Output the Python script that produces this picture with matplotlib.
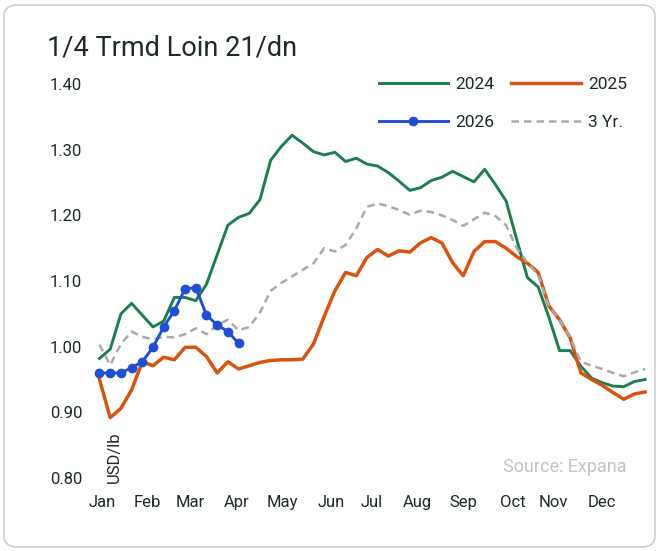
import matplotlib.pyplot as plt
from matplotlib.patches import FancyBboxPatch
import numpy as np

plt.rcParams['font.family'] = ['Roboto', 'DejaVu Sans']

# weekly prices, USD/lb
y2024 = [0.982, 0.996, 1.050, 1.066, 1.048, 1.030, 1.039, 1.075, 1.075, 1.070,
         1.095, 1.140, 1.185, 1.197, 1.203, 1.224, 1.284, 1.305, 1.322, 1.310,
         1.297, 1.292, 1.296, 1.282, 1.287, 1.278, 1.275, 1.265, 1.252, 1.238,
         1.242, 1.253, 1.258, 1.267, 1.259, 1.251, 1.270, 1.247, 1.222, 1.163,
         1.105, 1.091, 1.045, 0.994, 0.994, 0.970, 0.952, 0.945, 0.940, 0.939,
         0.947, 0.950]
y2025 = [0.950, 0.892, 0.906, 0.934, 0.977, 0.971, 0.984, 0.980, 0.999, 0.999,
         0.985, 0.960, 0.977, 0.966, 0.971, 0.976, 0.979, 0.980, 0.980, 0.981,
         1.004, 1.046, 1.085, 1.113, 1.108, 1.136, 1.148, 1.138, 1.146, 1.144,
         1.158, 1.166, 1.158, 1.128, 1.108, 1.145, 1.160, 1.160, 1.150, 1.137,
         1.127, 1.113, 1.062, 1.041, 1.013, 0.960, 0.950, 0.941, 0.930, 0.920,
         0.928, 0.931]
y2026 = [0.960, 0.960, 0.960, 0.968, 0.977, 0.999, 1.030, 1.055, 1.088, 1.090,
         1.048, 1.033, 1.023, 1.005]
y3yr = [1.003, 0.972, 1.004, 1.023, 1.015, 1.011, 1.015, 1.014, 1.019, 1.028,
        1.019, 1.033, 1.041, 1.025, 1.030, 1.052, 1.085, 1.097, 1.107, 1.117,
        1.127, 1.150, 1.145, 1.155, 1.180, 1.213, 1.218, 1.214, 1.208, 1.201,
        1.207, 1.205, 1.200, 1.193, 1.184, 1.194, 1.204, 1.199, 1.185, 1.150,
        1.128, 1.109, 1.062, 1.041, 1.013, 0.977, 0.971, 0.966, 0.960, 0.955,
        0.961, 0.966]

months = ['Jan', 'Feb', 'Mar', 'Apr', 'May', 'Jun', 'Jul', 'Aug', 'Sep', 'Oct', 'Nov', 'Dec']
month_pos = [0.25, 4.5, 8.45, 12.8, 17.1, 21.7, 25.4, 29.75, 34.0, 38.6, 42.4, 46.95]

green = '#1a7f4e'
orange = '#d9530e'
blue = '#1f4fd6'
grey = '#aaaaaa'
dark = '#1c2b24'

fig = plt.figure(figsize=(6.65, 5.51), dpi=100)
fig.patches.append(FancyBboxPatch((4 / 665, 4 / 551), 651 / 665, 542 / 551,
                                  boxstyle='round,pad=0,rounding_size=0.02',
                                  transform=fig.transFigure, fc='white',
                                  ec='#cfcfcf', lw=1.2, zorder=-1))

ax = fig.add_axes([92 / 665, 73 / 551, 560 / 665, 394 / 551])
ax.set_facecolor('none')

wk = np.arange(len(y2024))
l24, = ax.plot(wk, y2024, color=green, lw=2.1, label='2024')
l25, = ax.plot(np.arange(len(y2025)), y2025, color=orange, lw=2.5, label='2025')
l3, = ax.plot(np.arange(len(y3yr)), y3yr, color=grey, lw=1.8, ls=(0, (3, 2)), label='3 Yr.')
l26, = ax.plot(np.arange(len(y2026)), y2026, color=blue, lw=2.1, marker='o',
               ms=6, label='2026')

ax.set_xlim(-0.7, 51.64)
ax.set_ylim(0.80, 1.40)
ax.set_yticks([0.8, 0.9, 1.0, 1.1, 1.2, 1.3, 1.4])
ax.set_yticklabels([f'{v:.2f}' for v in [0.8, 0.9, 1.0, 1.1, 1.2, 1.3, 1.4]])
ax.set_xticks(month_pos)
ax.set_xticklabels(months)
ax.tick_params(length=0, labelsize=12, colors=dark)
ax.tick_params(axis='x', pad=12)
ax.tick_params(axis='y', pad=7)
for s in ax.spines.values():
    s.set_visible(False)

fig.text(47 / 665, 1 - 48 / 551, '1/4 Trmd Loin 21/dn', fontsize=19.5, color=dark,
         va='center', ha='left')
fig.text(114 / 665, 1 - 457 / 551, 'USD/lb', rotation=90, fontsize=12,
         color=dark, ha='center', va='center')
fig.text(627 / 665, 1 - 467 / 551, 'Source: Expana', fontsize=13,
         color='#c4c4c4', ha='right', va='center')

fig.legend([l24, l26, l25, l3], ['2024', '2026', '2025', '3 Yr.'], ncol=2,
           loc='upper left', bbox_to_anchor=(370 / 665, 1 - 68 / 551),
           frameon=False, fontsize=12.5, handlelength=4.0, handletextpad=0.4,
           columnspacing=1.0, labelspacing=1.35, borderpad=0, labelcolor=dark)

fig.savefig('out.png', dpi=100)
